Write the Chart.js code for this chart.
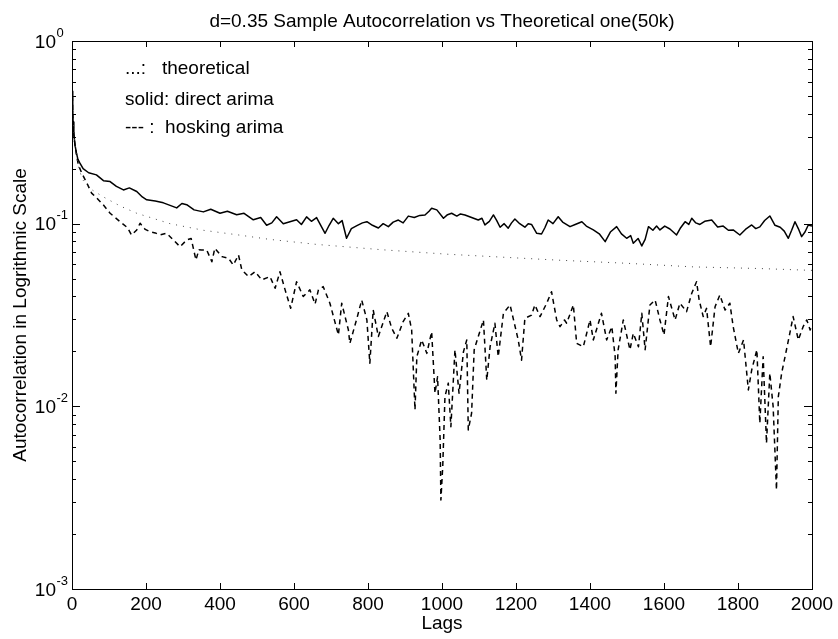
<!DOCTYPE html>
<html>
<head>
<meta charset="utf-8">
<script src="https://cdn.jsdelivr.net/npm/chart.js@4.4.1/dist/chart.umd.min.js"></script>
<style>
  html, body { margin: 0; padding: 0; background: #fff; }
  #wrap { width: 838px; height: 639px; }
</style>
</head>
<body>
<div id="wrap"><canvas id="acfChart" width="838" height="639"></canvas></div>
<script>
// Theoretical autocorrelation (dotted)
const theoryLags = [1, 2, 3, 5, 8, 12, 20, 30, 50, 85, 130, 175, 265, 355, 445, 535, 661, 837, 1017, 1197, 1323, 1499, 1679, 1859, 2000];
const theoryVals = [0.538, 0.44, 0.39, 0.32, 0.27, 0.235, 0.195, 0.173, 0.155, 0.14, 0.125, 0.114, 0.100, 0.092, 0.087, 0.082, 0.077, 0.072, 0.068, 0.065, 0.063, 0.0607, 0.058, 0.0568, 0.0555];

// Sample autocorrelation, direct arima (solid)
const directLags = [1, 2, 3, 5, 8, 12, 16, 21, 30, 45,
  66, 85, 103, 120, 139, 155, 175, 190, 202, 225,
  247, 265, 283, 297, 310, 330, 355, 375, 400, 420,
  445, 465, 490, 510, 526, 540, 553, 571, 589, 607,
  620, 634, 647, 661, 684, 695, 706, 720, 730, 742,
  755, 770, 785, 797, 812, 828, 841, 855, 868, 882,
  895, 909, 925, 940, 954, 965, 972, 986, 1004, 1015,
  1026, 1040, 1050, 1062, 1080, 1098, 1108, 1116, 1128, 1139,
  1148, 1157, 1168, 1179, 1188, 1197, 1210, 1224, 1233, 1242,
  1256, 1269, 1278, 1287, 1300, 1314, 1326, 1346, 1360, 1378,
  1390, 1409, 1425, 1441, 1455, 1472, 1485, 1499, 1510, 1517,
  1530, 1540, 1549, 1558, 1570, 1580, 1589, 1602, 1616, 1634,
  1645, 1657, 1667, 1675, 1686, 1697, 1710, 1729, 1745, 1760,
  1774, 1787, 1805, 1820, 1837, 1848, 1859, 1872, 1886, 1900,
  1914, 1925, 1936, 1945, 1954, 1963, 1972, 1981, 1990, 2000];
const directVals = [0.53, 0.42, 0.36, 0.31, 0.27, 0.244, 0.225, 0.215, 0.20, 0.19,
  0.185, 0.172, 0.17, 0.16, 0.153, 0.157, 0.150, 0.14, 0.135, 0.133,
  0.130, 0.126, 0.122, 0.129, 0.127, 0.119, 0.116, 0.120, 0.114, 0.117,
  0.112, 0.114, 0.105, 0.108, 0.098, 0.101, 0.109, 0.100, 0.1025, 0.105,
  0.099, 0.109, 0.103, 0.108, 0.0886, 0.098, 0.107, 0.100, 0.104, 0.0832,
  0.094, 0.0975, 0.101, 0.1025, 0.098, 0.0947, 0.100, 0.0963, 0.102, 0.1047,
  0.101, 0.110, 0.108, 0.111, 0.1116, 0.117, 0.1214, 0.119, 0.107, 0.112,
  0.114, 0.110, 0.113, 0.1116, 0.108, 0.1047, 0.107, 0.0984, 0.103, 0.1116,
  0.104, 0.0956, 0.100, 0.0945, 0.101, 0.1061, 0.100, 0.0956, 0.100, 0.099,
  0.0886, 0.0878, 0.095, 0.1047, 0.100, 0.1092, 0.102, 0.0963, 0.099, 0.1025,
  0.097, 0.0924, 0.088, 0.0797, 0.090, 0.0963, 0.088, 0.0832, 0.086, 0.0781,
  0.083, 0.0755, 0.082, 0.0963, 0.092, 0.097, 0.0924, 0.097, 0.0935, 0.0867,
  0.095, 0.1025, 0.099, 0.107, 0.101, 0.099, 0.103, 0.1047, 0.096, 0.097,
  0.092, 0.0924, 0.0867, 0.093, 0.0984, 0.094, 0.096, 0.104, 0.1102, 0.098,
  0.0955, 0.091, 0.0832, 0.092, 0.1025, 0.094, 0.0849, 0.090, 0.0984, 0.097];

// Sample autocorrelation, hosking arima (dashed)
const hoskingLags = [1, 2, 3, 6, 12, 17, 26, 40, 53, 67,
  85, 103, 130, 150, 161, 175, 184, 198, 211, 225,
  238, 256, 274, 292, 310, 322, 335, 343, 350, 364,
  378, 386, 405, 423, 436, 450, 459, 477, 495, 513,
  535, 549, 562, 576, 591, 607, 625, 643, 657, 666,
  679, 697, 720, 729, 747, 751, 770, 783, 797, 805,
  814, 828, 851, 864, 878, 895, 909, 918, 927, 932,
  945, 959, 972, 981, 988, 995, 997, 1002, 1008, 1017,
  1024, 1035, 1046, 1058, 1067, 1071, 1080, 1087, 1098, 1112,
  1121, 1130, 1143, 1152, 1166, 1184, 1206, 1215, 1224, 1242,
  1251, 1265, 1283, 1296, 1310, 1319, 1331, 1337, 1355, 1364,
  1382, 1400, 1409, 1431, 1445, 1459, 1468, 1470, 1476, 1490,
  1508, 1517, 1531, 1540, 1549, 1562, 1576, 1589, 1600, 1612,
  1630, 1643, 1661, 1675, 1688, 1695, 1706, 1715, 1726, 1738,
  1751, 1765, 1778, 1787, 1801, 1815, 1828, 1837, 1851, 1859,
  1868, 1877, 1886, 1895, 1904, 1909, 1918, 1931, 1940, 1949,
  1963, 1976, 1986, 1995, 2000];
const hoskingVals = [0.50, 0.40, 0.35, 0.29, 0.24, 0.21, 0.19, 0.167, 0.147, 0.138,
  0.1265, 0.114, 0.1025, 0.095, 0.0867, 0.0924, 0.1005, 0.093, 0.0904, 0.089,
  0.0867, 0.0886, 0.0814, 0.0748, 0.0814, 0.083, 0.0633, 0.072, 0.0718, 0.0718,
  0.0619, 0.0733, 0.066, 0.0646, 0.0594, 0.0674, 0.0558, 0.0513, 0.0546, 0.0492,
  0.0513, 0.0443, 0.0546, 0.0434, 0.0344, 0.0481, 0.0399, 0.0434, 0.0363, 0.0434,
  0.0452, 0.0367, 0.0246, 0.0367, 0.0262, 0.0221, 0.0303, 0.0382, 0.0297, 0.0172,
  0.0337, 0.0241, 0.033, 0.0268, 0.0236, 0.0291, 0.0323, 0.0262, 0.00956, 0.0187,
  0.0231, 0.0195, 0.0256, 0.0118, 0.0145, 0.00655, 0.00307, 0.00468, 0.0113, 0.0134,
  0.00774, 0.0204, 0.0118, 0.0199, 0.0231, 0.00743, 0.00917, 0.0204, 0.0241, 0.0297,
  0.0139, 0.0212, 0.0285, 0.0187, 0.0323, 0.0359, 0.0231, 0.0179, 0.0303, 0.0316,
  0.0359, 0.031, 0.0367, 0.0424, 0.0297, 0.0273, 0.0297, 0.0285, 0.0359, 0.0221,
  0.0212, 0.0297, 0.0231, 0.0323, 0.0231, 0.0273, 0.0187, 0.0118, 0.0204, 0.0297,
  0.0204, 0.0251, 0.0212, 0.0323, 0.0204, 0.0359, 0.0382, 0.0297, 0.0246, 0.0399,
  0.0297, 0.0367, 0.033, 0.0416, 0.0481, 0.0382, 0.031, 0.0344, 0.0212, 0.0351,
  0.0407, 0.0337, 0.0367, 0.0273, 0.0195, 0.0231, 0.0123, 0.0158, 0.0204, 0.00808,
  0.0187, 0.00628, 0.0152, 0.00996, 0.00349, 0.0113, 0.0152, 0.0204, 0.0251, 0.031,
  0.0231, 0.0273, 0.0297, 0.0262, 0.028];

// Axis ticks and labels
const xTickLabels = ['0', '200', '400', '600', '800', '1000', '1200', '1400', '1600', '1800', '2000'];
const yDecades = [1, 0.1, 0.01, 0.001];
const yExponents = ['0', '-1', '-2', '-3'];

// In-plot legend text (the original writes it as plain text, not a legend box)
const noteLines = ['...:   theoretical', 'solid: direct arima', '--- :  hosking arima'];
const chartTitle = 'd=0.35 Sample Autocorrelation vs Theoretical one(50k)';

const FONT = '"Liberation Sans", Arial, Helvetica, sans-serif';

function toPoints(lags, vals) {
    return lags.map((x, i) => ({ x: x, y: vals[i] }));
}

// Matlab-like frame: box, inward ticks, superscript y labels, title, notes
const matlabFrame = {
    id: 'matlabFrame',
    afterDraw(chart) {
        const { ctx, chartArea: a, scales } = chart;
        ctx.save();
        ctx.strokeStyle = '#000';
        ctx.lineWidth = 1;
        ctx.strokeRect(a.left + 0.5, a.top + 0.5, a.right - a.left, a.bottom - a.top);

        ctx.beginPath();
        scales.x.ticks.forEach(t => {
            const px = Math.round(scales.x.getPixelForValue(t.value)) + 0.5;
            ctx.moveTo(px, a.bottom);
            ctx.lineTo(px, a.bottom - 6);
            ctx.moveTo(px, a.top);
            ctx.lineTo(px, a.top + 6);
        });
        yDecades.forEach((d, i) => {
            const py = Math.round(scales.y.getPixelForValue(d)) + 0.5;
            ctx.moveTo(a.left, py);
            ctx.lineTo(a.left + 8, py);
            ctx.moveTo(a.right, py);
            ctx.lineTo(a.right - 8, py);
            if (i === 0) return;
            for (let k = 2; k <= 9; k++) {
                const my = Math.round(scales.y.getPixelForValue(k * d)) + 0.5;
                ctx.moveTo(a.left, my);
                ctx.lineTo(a.left + 4, my);
                ctx.moveTo(a.right, my);
                ctx.lineTo(a.right - 4, my);
            }
        });
        ctx.stroke();

        ctx.fillStyle = '#000';
        // y labels as 10 with a raised exponent
        yDecades.forEach((d, i) => {
            const py = scales.y.getPixelForValue(d);
            ctx.font = '19px ' + FONT;
            ctx.textAlign = 'right';
            ctx.textBaseline = 'alphabetic';
            ctx.fillText('10', 56, py + 6.5);
            ctx.font = '13px ' + FONT;
            ctx.textAlign = 'left';
            ctx.fillText(yExponents[i], 56.5, py - 4.5);
        });

        ctx.font = '19px ' + FONT;
        ctx.textAlign = 'center';
        ctx.fillText(chartTitle, (a.left + a.right) / 2, 27);

        ctx.textAlign = 'left';
        const noteY = [73.5, 105, 133];
        noteLines.forEach((txt, i) => ctx.fillText(txt, 125, noteY[i]));
        ctx.restore();
    }
};

const ctx = document.getElementById('acfChart').getContext('2d');
new Chart(ctx, {
    type: 'line',
    data: {
        datasets: [{
            label: 'theoretical',
            data: toPoints(theoryLags, theoryVals),
            borderColor: '#444',
            borderWidth: 1,
            borderDash: [1, 6],
            pointRadius: 0,
            fill: false
        }, {
            label: 'direct arima',
            data: toPoints(directLags, directVals),
            borderColor: '#000',
            borderWidth: 1.5,
            borderJoinStyle: 'round',
            pointRadius: 0,
            fill: false
        }, {
            label: 'hosking arima',
            data: toPoints(hoskingLags, hoskingVals),
            borderColor: '#000',
            borderWidth: 1.5,
            borderDash: [5, 4],
            borderJoinStyle: 'round',
            pointRadius: 0,
            fill: false
        }]
    },
    options: {
        responsive: false,
        animation: false,
        devicePixelRatio: 1,
        layout: { padding: { top: 41, right: 26, bottom: 0, left: 0 } },
        plugins: {
            legend: { display: false },
            tooltip: { enabled: false }
        },
        scales: {
            x: {
                type: 'linear',
                min: 0,
                max: 2000,
                ticks: {
                    stepSize: 200,
                    autoSkip: false,
                    maxRotation: 0,
                    padding: 4,
                    color: '#000',
                    font: { family: FONT, size: 19 },
                    callback: (v, i) => xTickLabels[i]
                },
                grid: { display: false, drawTicks: false },
                border: { display: false },
                title: {
                    display: true,
                    text: 'Lags',
                    color: '#000',
                    font: { family: FONT, size: 19 },
                    padding: { top: 0, bottom: 4 }
                },
                afterFit: (scale) => { scale.height = 50; }
            },
            y: {
                type: 'logarithmic',
                min: 0.001,
                max: 1,
                ticks: { display: false },
                grid: { display: false, drawTicks: false },
                border: { display: false },
                title: {
                    display: true,
                    text: 'Autocorrelation in Logrithmic Scale',
                    color: '#000',
                    font: { family: FONT, size: 19 },
                    padding: { top: 9, bottom: 0 }
                },
                afterFit: (scale) => { scale.width = 72; }
            }
        }
    },
    plugins: [matlabFrame]
});
</script>
</body>
</html>
